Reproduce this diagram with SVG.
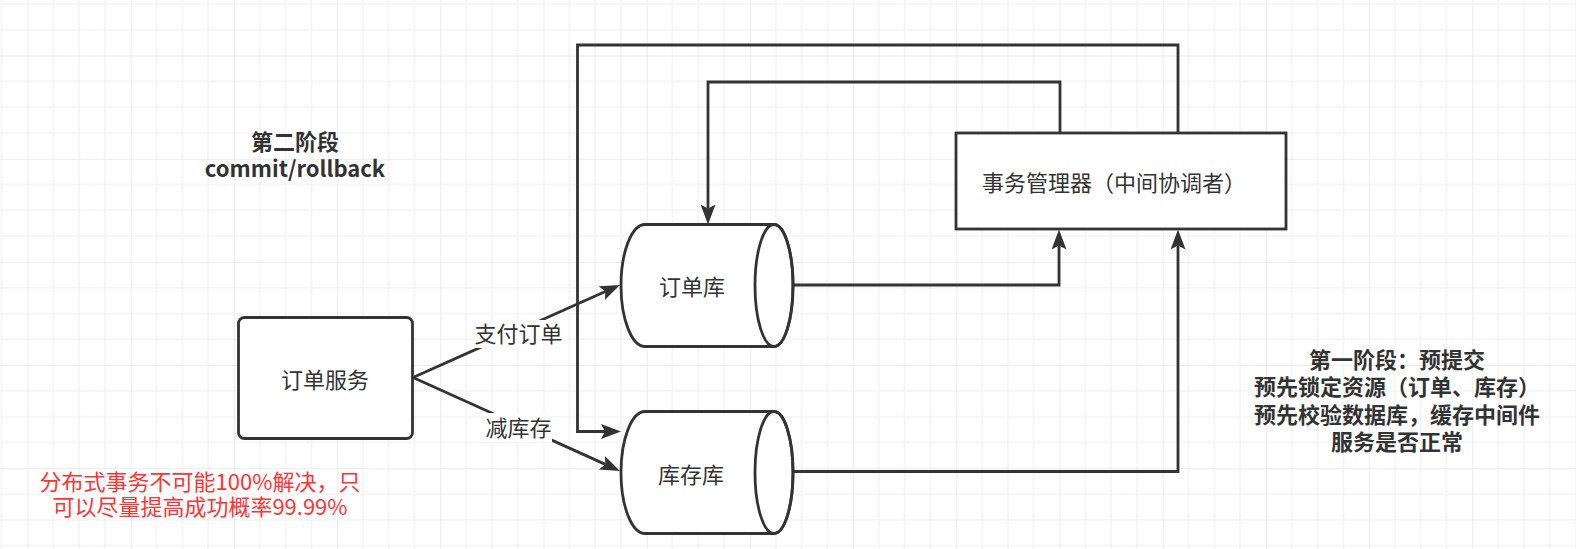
<svg xmlns="http://www.w3.org/2000/svg" width="1576" height="549" viewBox="0 0 1576 549">
<defs>
<pattern id="grid" x="27.5" y="55.5" width="103.2" height="103.2" patternUnits="userSpaceOnUse">
<path d="M25.8,0V103.2M51.6,0V103.2M77.4,0V103.2M0,25.8H103.2M0,51.6H103.2M0,77.4H103.2" stroke="#f0f0f0" stroke-width="1.2" fill="none"/>
<path d="M0,0V103.2M0,0H103.2" stroke="#e4e4e4" stroke-width="1.4" fill="none"/>
</pattern>
<marker id="arr" viewBox="0 0 20 15" refX="4" refY="7.5" markerWidth="20" markerHeight="15" markerUnits="userSpaceOnUse" orient="auto">
<path d="M0,0 L20,7.5 L0,15 L4,7.5 Z" fill="#333333"/>
</marker>
</defs>
<style>
.shape{fill:#ffffff;stroke:#333333;stroke-width:2.8}
.edge{fill:none;stroke:#333333;stroke-width:2.8;marker-end:url(#arr)}
.t{font-family:"Noto Sans CJK SC","Noto Sans",sans-serif;font-size:22px;fill:#333333;text-anchor:middle}
.b{font-weight:bold}
.red{fill:#ff3333}
.lbl{fill:#ffffff}
</style>
<rect width="1576" height="549" fill="#ffffff"/>
<rect width="1576" height="549" fill="url(#grid)"/>

<g id="connectors">
<path class="edge" d="M413,377.5 L605.4,291.5"/>
<path class="edge" d="M413,377.5 L605.4,464.4"/>
<path class="edge" d="M1178,133 V45 H577.5 V431.5 H605"/>
<path class="edge" d="M1060,133 V82 H708 V208.5"/>
<path class="edge" d="M793,285 H1059 V245.5"/>
<path class="edge" d="M793,471.5 H1178 V245.5"/>
<g id="label-pay">
<rect class="lbl" x="474" y="320" width="89" height="28"/>
<text class="t" x="518.5" y="342">支付订单</text>
</g>
<g id="label-stock">
<rect class="lbl" x="485" y="413" width="67" height="29"/>
<text class="t" x="518.5" y="436">减库存</text>
</g>
</g>

<g id="order-service">
<rect class="shape" x="238.5" y="317.5" width="174" height="121" rx="6"/>
<text class="t" x="325" y="388">订单服务</text>
</g>

<g id="tx-manager">
<rect class="shape" x="956" y="133" width="330" height="96"/>
<text class="t" x="1114" y="191">事务管理器（中间协调者）</text>
</g>

<g id="order-db">
<path class="shape" d="M645,224.5 L774,224.5 A19,61 0 0 1 774,346.5 L645,346.5 A24,61 0 0 1 645,224.5 Z"/>
<ellipse cx="774" cy="285.5" rx="19" ry="61" fill="none" stroke="#333333" stroke-width="2.8"/>
<text class="t" x="692" y="295">订单库</text>
</g>

<g id="stock-db">
<path class="shape" d="M645,411.5 L774,411.5 A19,61 0 0 1 774,533.5 L645,533.5 A24,61 0 0 1 645,411.5 Z"/>
<ellipse cx="774" cy="472.5" rx="19" ry="61" fill="none" stroke="#333333" stroke-width="2.8"/>
<text class="t" x="691" y="483">库存库</text>
</g>

<g id="phase2-note">
<text class="t b" x="295" y="150">第二阶段</text>
<text class="t b" x="295" y="177">commit/rollback</text>
</g>

<g id="phase1-note">
<text class="t b" x="1397" y="368">第一阶段：预提交</text>
<text class="t b" x="1397" y="395">预先锁定资源（订单、库存）</text>
<text class="t b" x="1397" y="423">预先校验数据库，缓存中间件</text>
<text class="t b" x="1397" y="450">服务是否正常</text>
</g>

<g id="red-note">
<text class="t red" x="200" y="490">分布式事务不可能100%解决，只</text>
<text class="t red" x="200" y="515">可以尽量提高成功概率99.99%</text>
</g>
</svg>
